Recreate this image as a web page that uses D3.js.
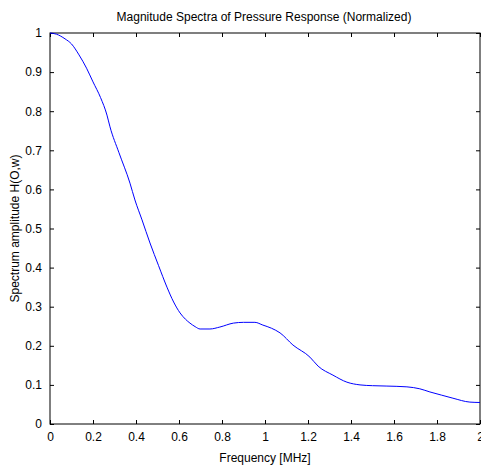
<!DOCTYPE html>
<html lang="en">
<head>
    <meta charset="UTF-8">
    <title>Magnitude Spectra of Pressure Response</title>
    <script src="https://d3js.org/d3.v7.js"></script>
    <style>
        body { margin: 0; background: #fff; }
        text { font-family: "Liberation Sans", Arial, sans-serif; fill: #000; }
    </style>
</head>
<body>
    <svg></svg>
    <script>
        // values
        const freq = [0, 0.03, 0.07, 0.1, 0.135, 0.17, 0.2, 0.235, 0.265, 0.279, 0.32, 0.372, 0.395, 0.428,
            0.465, 0.505, 0.544, 0.575, 0.605, 0.63, 0.651, 0.675, 0.698, 0.744, 0.79, 0.853, 0.9, 0.953,
            0.99, 1.03, 1.07, 1.13, 1.209, 1.247, 1.316, 1.381, 1.442, 1.5, 1.567, 1.66, 1.72, 1.767,
            1.82, 1.874, 1.953, 2.0];
        const amp = [1.0, 0.997, 0.985, 0.972, 0.944, 0.91, 0.875, 0.835, 0.79, 0.76, 0.695, 0.616, 0.573, 0.522,
            0.463, 0.405, 0.35, 0.312, 0.284, 0.268, 0.258, 0.249, 0.243, 0.243, 0.248, 0.258, 0.26, 0.26,
            0.253, 0.245, 0.233, 0.202, 0.171, 0.148, 0.125, 0.107, 0.1, 0.098, 0.097, 0.095, 0.09, 0.082,
            0.074, 0.066, 0.056, 0.055];
        const xTicks = [0, 0.2, 0.4, 0.6, 0.8, 1, 1.2, 1.4, 1.6, 1.8, 2];
        const yTicks = [0, 0.1, 0.2, 0.3, 0.4, 0.5, 0.6, 0.7, 0.8, 0.9, 1];

        const width = 481, height = 468;
        const m = {left: 50, right: 480, top: 33, bottom: 424};

        const svg = d3.select("svg")
            .attr("width", width)
            .attr("height", height);

        const x = d3.scaleLinear().domain([0, 2]).range([m.left, m.right]);
        const y = d3.scaleLinear().domain([0, 1]).range([m.bottom, m.top]);

        const fmt = d => String(d);

        // bottom + top axes (inward ticks)
        svg.append("g")
            .attr("transform", `translate(0,${m.bottom})`)
            .call(d3.axisBottom(x).tickValues(xTicks).tickFormat(fmt).tickSizeInner(-4).tickSizeOuter(0).tickPadding(8))
            .call(g => g.select(".domain").remove())
            .call(g => g.selectAll("text").attr("font-size", 12).attr("dy", "0.71em"));
        svg.append("g")
            .attr("transform", `translate(0,${m.top})`)
            .call(d3.axisTop(x).tickValues(xTicks).tickFormat("").tickSizeInner(-4).tickSizeOuter(0))
            .call(g => g.select(".domain").remove());

        // left + right axes
        svg.append("g")
            .attr("transform", `translate(${m.left},0)`)
            .call(d3.axisLeft(y).tickValues(yTicks).tickFormat(fmt).tickSizeInner(-4).tickSizeOuter(0).tickPadding(8))
            .call(g => g.select(".domain").remove())
            .call(g => g.selectAll("text").attr("font-size", 12));
        svg.append("g")
            .attr("transform", `translate(${m.right},0)`)
            .call(d3.axisRight(y).tickValues(yTicks).tickFormat("").tickSizeInner(-4).tickSizeOuter(0))
            .call(g => g.select(".domain").remove());

        svg.selectAll(".tick line").attr("stroke", "#000");

        // frame
        svg.append("rect")
            .attr("x", m.left).attr("y", m.top)
            .attr("width", m.right - m.left).attr("height", m.bottom - m.top)
            .attr("fill", "none").attr("stroke", "#000").attr("stroke-width", 1);

        const pts = freq.map((f, i) => [f, amp[i]]);
        svg.append("path")
            .datum(pts)
            .attr("fill", "none")
            .attr("stroke", "#0000ff")
            .attr("stroke-width", 1)
            .attr("d", d3.line().x(d => x(d[0])).y(d => y(d[1])).curve(d3.curveMonotoneX));

        svg.append("text")
            .attr("x", (m.left + m.right) / 2 - 1).attr("y", 21)
            .attr("text-anchor", "middle").attr("font-size", 12)
            .text("Magnitude Spectra of Pressure Response (Normalized)");

        svg.append("text")
            .attr("x", (m.left + m.right) / 2).attr("y", 462)
            .attr("text-anchor", "middle").attr("font-size", 12)
            .text("Frequency [MHz]");

        svg.append("text")
            .attr("transform", `translate(19,${(m.top + m.bottom) / 2}) rotate(-90)`)
            .attr("text-anchor", "middle").attr("font-size", 12)
            .text("Spectrum amplitude H(O,w)");
    </script>
</body>
</html>
